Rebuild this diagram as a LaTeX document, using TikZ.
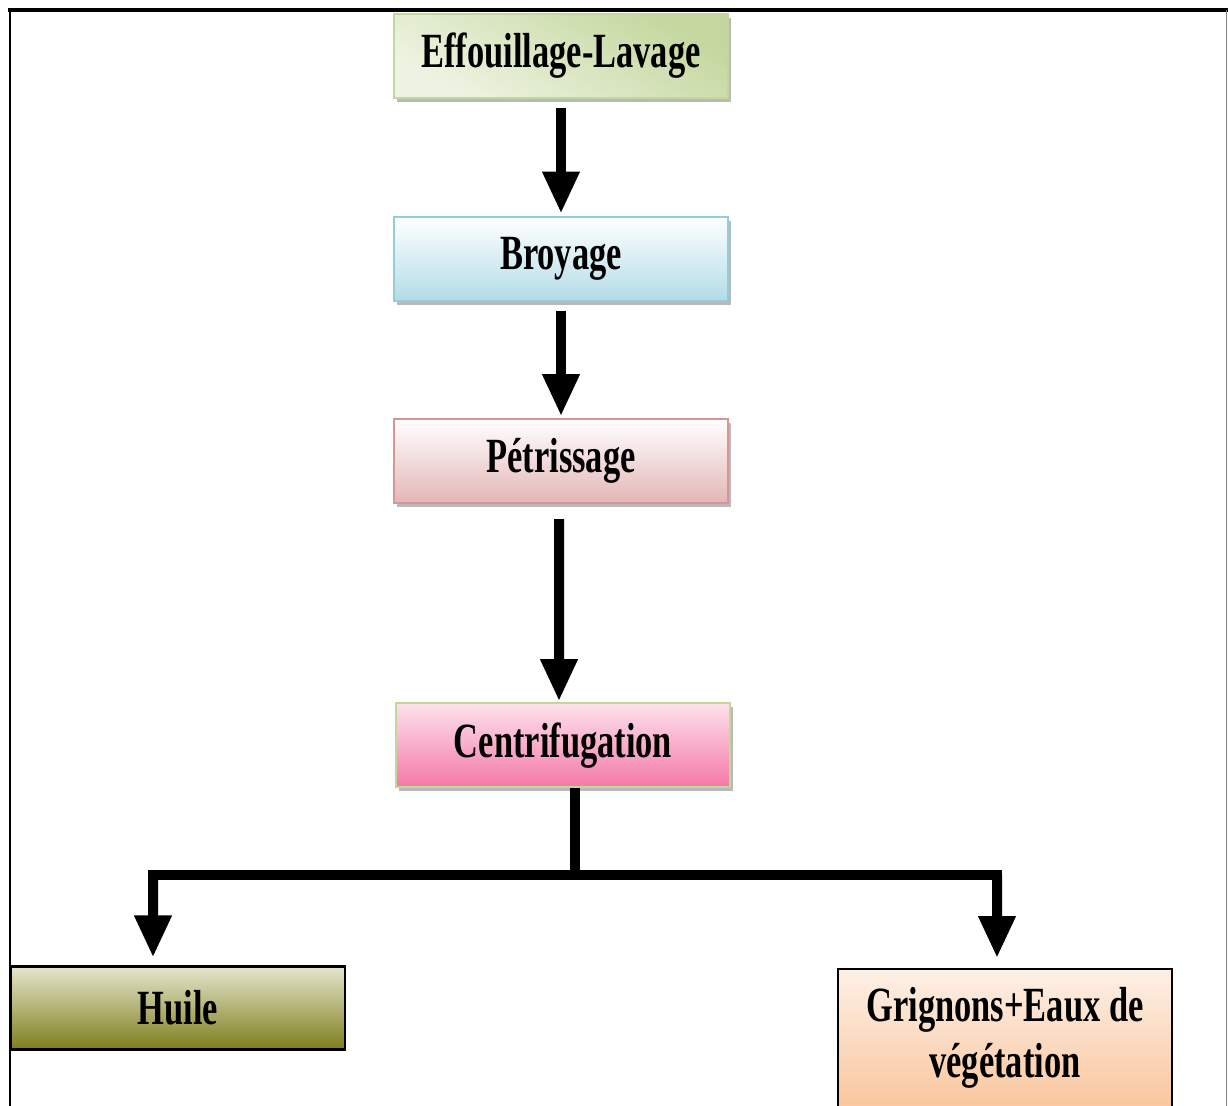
\documentclass[tikz,border=0pt]{standalone}
\usepackage{fontspec}
\setmainfont{Liberation Serif}
\usepackage{xcolor}
\usetikzlibrary{arrows.meta,positioning,shadows}
\definecolor{leafline}{HTML}{C3D69B}
\definecolor{leafdark}{HTML}{C4D79E}
\definecolor{leaflight}{HTML}{EEF4E3}
\definecolor{icebluel}{HTML}{92CDDC}
\definecolor{iceblue}{HTML}{B3DCE7}
\definecolor{roseline}{HTML}{D99594}
\definecolor{rose}{HTML}{E4B6B6}
\definecolor{pinktop}{HTML}{FDE2EC}
\definecolor{pinkbot}{HTML}{F579A7}
\definecolor{olivetop}{HTML}{E6E6CE}
\definecolor{olivebot}{HTML}{7E7E1C}
\definecolor{peachtop}{HTML}{FDF0E6}
\definecolor{peachbot}{HTML}{F9BD8D}
\newcommand{\cond}[1]{\scalebox{0.7}[1]{#1}}

\begin{document}
\begin{tikzpicture}[
    x=0.02cm, y=-0.02cm,
    node distance=2.33cm,
    stage/.style={draw, line width=1.2pt, minimum width=6.68cm, minimum height=1.68cm, inner sep=0pt,
        font=\bfseries\fontsize{28}{34}\selectfont, align=center,
        drop shadow={shadow xshift=0.06cm, shadow yshift=-0.08cm, fill=gray!55, opacity=1}},
    product/.style={draw=black, line width=1.2pt, minimum width=6.68cm, inner sep=0pt,
        font=\bfseries\fontsize{28}{34}\selectfont, align=center},
    flow/.style={-{Triangle[length=0.84cm, width=0.7cm]}, line width=0.2cm, color=black},
    bar/.style={line width=0.2cm, line cap=rect, color=black},
]
\useasboundingbox (0,0) rectangle (1228,1106);

% Frame
\draw[line width=0.08cm] (8,10) -- (1228,10);
\draw[line width=0.06cm] (10,10) -- (10,1106);
\draw[gray, line width=0.02cm] (1226,10) -- (1226,1106);

% Process steps
\node[stage, draw=leafline, top color=leafdark, bottom color=leaflight, shading angle=-30] (eff) at (561,56)
    {\cond{Effouillage-Lavage}};
\node[stage, draw=icebluel, top color=white, bottom color=iceblue, below=of eff] (bro)
    {\cond{Broyage}};
\node[stage, draw=roseline, top color=white, bottom color=rose, below=of bro] (pet)
    {\cond{Pétrissage}};
\node[stage, draw=leafline, top color=pinktop, bottom color=pinkbot, below=3.96cm of pet, xshift=0.04cm] (cent)
    {\cond{Centrifugation}};

% Products
\node[product, minimum height=1.66cm, top color=olivetop, bottom color=olivebot] (huile) at (178,1008)
    {\cond{Huile}};
\node[product, minimum height=3.4cm, anchor=north, top color=peachtop, bottom color=peachbot] (grig) at (1005,968) {};
\node[font=\bfseries\fontsize{28}{32}\selectfont, align=center, anchor=north, inner sep=0pt] (griglabel)
    at ([yshift=-0.38cm]grig.north) {\cond{Grignons+Eaux de}\\\cond{végétation}};

% Flow arrows
\draw[flow, shorten <=0.18cm, shorten >=0.04cm] (eff) -- (bro);
\draw[flow, shorten <=0.18cm, shorten >=0.04cm] (bro) -- (pet);
\draw[flow, shorten <=0.3cm, shorten >=0.02cm] ([xshift=-0.04cm]pet.south) -- ([xshift=-0.08cm]cent.north);

% Split
\coordinate (split) at (575,875);
\coordinate (leftdrop) at (153,875);
\coordinate (rightdrop) at (997,875);
\draw[line width=0.2cm] (split |- cent.south) -- (split);
\draw[bar] (leftdrop) -- (rightdrop);
\draw[flow] (leftdrop) -- ([xshift=-0.5cm, yshift=0.16cm]huile.north);
\draw[flow] (rightdrop) -- ([xshift=-0.16cm, yshift=0.2cm]grig.north);

\end{tikzpicture}
\end{document}
